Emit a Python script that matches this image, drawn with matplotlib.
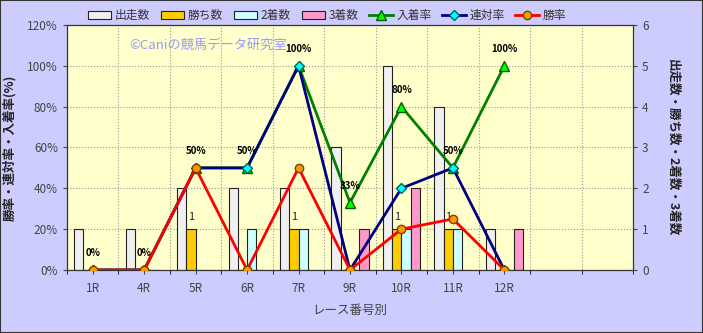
import matplotlib
matplotlib.use('Agg')
import matplotlib.pyplot as plt
import numpy as np
from matplotlib.patches import Rectangle

plt.rcParams['font.family'] = ['Noto Sans CJK JP', 'DejaVu Sans']

# データ
races = ['1R', '4R', '5R', '6R', '7R', '9R', '10R', '11R', '12R']
runs = [1, 1, 2, 2, 2, 3, 5, 4, 1]
wins = [0, 0, 1, 0, 1, 0, 1, 1, 0]
seconds = [0, 0, 0, 1, 1, 0, 1, 1, 0]
thirds = [0, 0, 0, 0, 0, 1, 2, 0, 1]
place_rate = [0, 0, 50, 50, 100, 33, 80, 50, 100]
quinella_rate = [0, 0, 50, 50, 100, 0, 40, 50, 0]
win_rate = [0, 0, 50, 0, 50, 0, 20, 25, 0]
n_slots = 11

x = np.arange(len(races))

fig = plt.figure(figsize=(7.03, 3.33), dpi=100, facecolor='#CCCCFF')
ax = fig.add_axes([0.0953, 0.1892, 0.8051, 0.7358])
ax2 = ax.twinx()

# 棒グラフ (右軸)
w = 0.18
bar_specs = [(runs, '#F0F0F0', '出走数'), (wins, '#FFCC00', '勝ち数'),
             (seconds, '#CCFFFF', '2着数'), (thirds, '#FF99CC', '3着数')]
handles = []
for i, (vals, col, lab) in enumerate(bar_specs):
    b = ax.bar(x + (i - 1.5) * w, vals, w, color=col, edgecolor='#222222',
               linewidth=0.8, label=lab, zorder=2)
    handles.append(b)

for xi, v in zip(x, wins):
    if v > 0:
        ax.annotate(str(v), (xi - 0.5 * w, v), xytext=(0, 9), textcoords='offset points',
                    ha='center', va='center', fontsize=8, color='#222222')

ax.set_ylim(0, 6)
ax.set_yticks(range(7))
ax.yaxis.tick_right()
ax.yaxis.set_label_position('right')
ax.set_ylabel('出走数・勝ち数・2着数・3着数', rotation=270, labelpad=22, fontsize=9,
              fontweight='bold', color='#222222')

# 折れ線 (左軸)
l1, = ax2.plot(x, place_rate, color='#008000', lw=2, marker='^', ms=7,
               mfc='#00FF00', mec='#006000', label='入着率', zorder=3)
l2, = ax2.plot(x, quinella_rate, color='#000080', lw=2, marker='D', ms=5,
               mfc='#00FFFF', mec='#006060', label='連対率', zorder=4)
l3, = ax2.plot(x, win_rate, color='#FF0000', lw=2, marker='o', ms=6,
               mfc='#FF9900', mec='#804000', label='勝率', zorder=5)
handles += [l1, l2, l3]

for xi, v in zip(x, place_rate):
    ax2.annotate(f'{v}%', (xi, v), xytext=(0, 12), textcoords='offset points',
                 ha='center', va='center', fontsize=7, fontweight='bold', color='black')

ax2.set_ylim(0, 120)
ax2.set_yticks(range(0, 121, 20))
ax2.set_yticklabels([f'{v}%' for v in range(0, 121, 20)])
ax2.yaxis.tick_left()
ax2.yaxis.set_label_position('left')
ax2.set_ylabel('勝率・連対率・入着率(%)', labelpad=8, fontsize=9,
               fontweight='bold', color='#222222')

ax.set_xlim(-0.5, n_slots - 0.5)
ax.set_xticks(x)
ax.set_xticklabels(races)
ax.set_xticks(np.arange(-0.5, n_slots, 1), minor=True)
ax.tick_params(axis='x', which='major', length=0, pad=6)
ax.tick_params(axis='x', which='minor', length=3)
ax.set_xlabel('レース番号別', fontsize=9, labelpad=6)

for a in (ax, ax2):
    a.tick_params(labelsize=8.5, colors='#444444', length=3)
    for s in a.spines.values():
        s.set_color('#333333')
ax.xaxis.label.set_color('#444444')
ax.set_facecolor('#FFFFCC')
ax2.patch.set_visible(False)
ax.grid(True, axis='y', linestyle=':', color='#999999', lw=0.8, zorder=0)
ax.grid(True, axis='x', which='minor', linestyle=':', color='#999999', lw=0.8, zorder=0)
ax.set_axisbelow(True)

ax.text(0.11, 0.915, '©Caniの競馬データ研究室', transform=ax.transAxes,
        fontsize=9.5, color='#9999FF', va='center')

fig.legend(handles=handles, loc='center', bbox_to_anchor=(0.465, 0.953), ncol=7,
           frameon=False, fontsize=8.5, handlelength=2.0, handletextpad=0.3,
           columnspacing=0.9, labelcolor='#333333')

fig.patches.append(Rectangle((0, 0), 1, 1, transform=fig.transFigure, fill=False,
                             edgecolor='#333333', lw=1.5))

fig.savefig('out.png', dpi=100, facecolor=fig.get_facecolor())
